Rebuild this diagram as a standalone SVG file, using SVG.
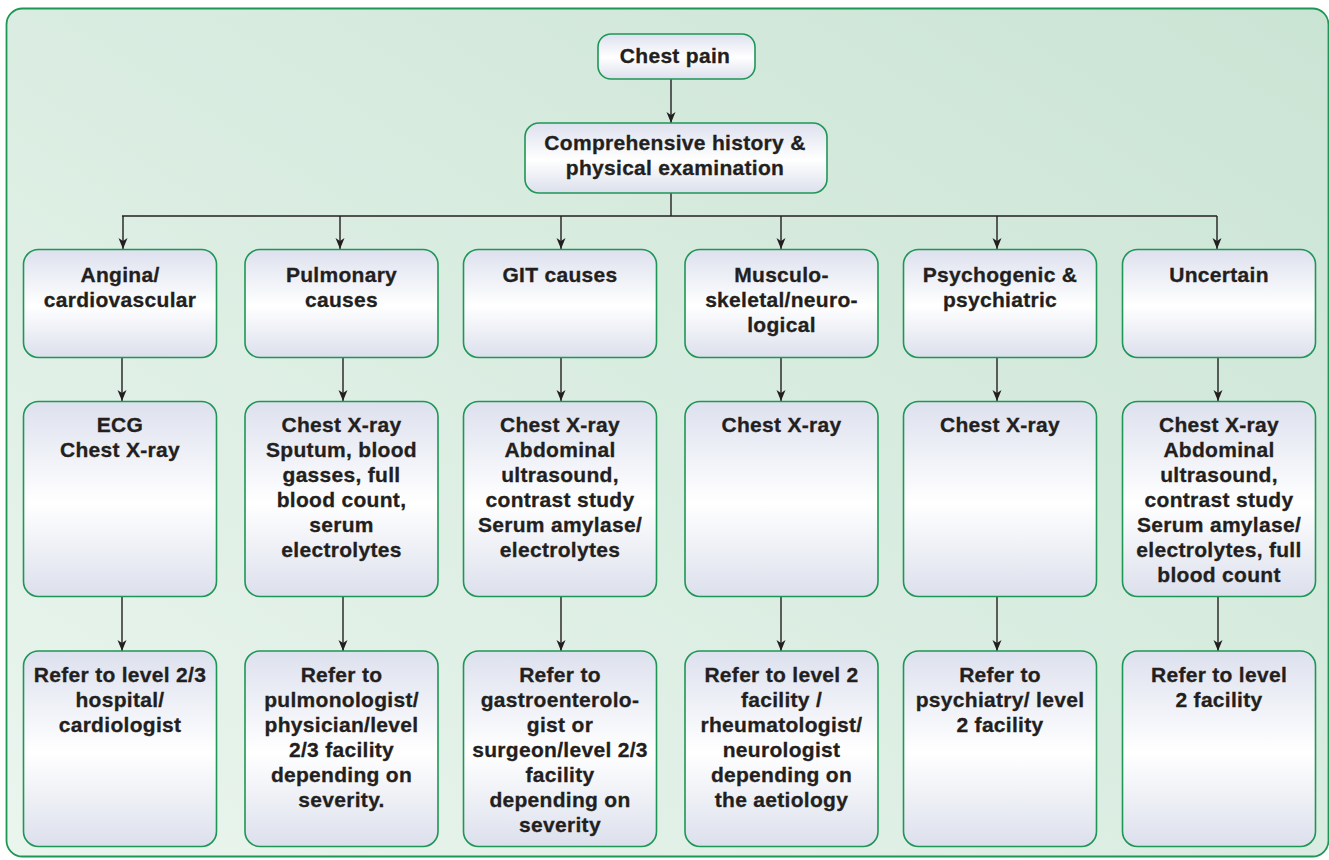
<svg xmlns="http://www.w3.org/2000/svg" width="1329" height="860" viewBox="0 0 1329 860">
<defs>
<linearGradient id="bg" x1="0" y1="1" x2="1" y2="0">
<stop offset="0" stop-color="#eaf5ee"/>
<stop offset="1" stop-color="#cae4d4"/>
</linearGradient>
<linearGradient id="box" x1="0" y1="0" x2="0" y2="1">
<stop offset="0" stop-color="#dde1ee"/>
<stop offset="0.52" stop-color="#ffffff"/>
<stop offset="1" stop-color="#dce0ec"/>
</linearGradient>
<marker id="arr" markerUnits="userSpaceOnUse" markerWidth="12" markerHeight="12" viewBox="0 0 12 12" refX="11" refY="6" orient="auto">
<path d="M0,1.5 L11,6 L0,10.5 L3,6 z" fill="#231f20"/>
</marker>
<style>
.n{fill:url(#box);stroke:#1e9656;stroke-width:1.6}
.t{font-family:"Liberation Sans",Arial,sans-serif;font-weight:bold;font-size:21px;letter-spacing:0.3px;fill:#231f20;stroke:#231f20;stroke-width:0.3px;text-anchor:middle}
.c{fill:none;stroke:#231f20;stroke-width:1.4}
.a{marker-end:url(#arr)}
</style>
</defs>
<rect x="0" y="0" width="1329" height="860" fill="#ffffff"/>
<rect x="6.5" y="8.5" width="1322" height="848" rx="16" fill="url(#bg)" stroke="#1e9656" stroke-width="1.8"/>

<g id="connectors">
<line class="c a" x1="671" y1="79" x2="671" y2="123"/>
<line class="c" x1="671" y1="193" x2="671" y2="216"/>
<line class="c" x1="122" y1="216" x2="1217" y2="216"/>
<line class="c a" x1="123" y1="216" x2="123" y2="249"/>
<line class="c a" x1="340" y1="216" x2="340" y2="249"/>
<line class="c a" x1="561" y1="216" x2="561" y2="249"/>
<line class="c a" x1="781" y1="216" x2="781" y2="249"/>
<line class="c a" x1="997" y1="216" x2="997" y2="249"/>
<line class="c a" x1="1217" y1="216" x2="1217" y2="249"/>
<line class="c a" x1="122" y1="357" x2="122" y2="401"/>
<line class="c a" x1="343" y1="357" x2="343" y2="401"/>
<line class="c a" x1="561" y1="357" x2="561" y2="401"/>
<line class="c a" x1="781" y1="357" x2="781" y2="401"/>
<line class="c a" x1="997" y1="357" x2="997" y2="401"/>
<line class="c a" x1="1218" y1="357" x2="1218" y2="401"/>
<line class="c a" x1="122" y1="597" x2="122" y2="651"/>
<line class="c a" x1="343" y1="597" x2="343" y2="651"/>
<line class="c a" x1="561" y1="597" x2="561" y2="651"/>
<line class="c a" x1="781" y1="597" x2="781" y2="651"/>
<line class="c a" x1="997" y1="597" x2="997" y2="651"/>
<line class="c a" x1="1218" y1="597" x2="1218" y2="651"/>
</g>

<g id="chest-pain">
<rect class="n" x="598" y="34" width="157" height="45" rx="13"/>
<text class="t" x="675" y="63">Chest pain</text>
</g>
<g id="history">
<rect class="n" x="525" y="123" width="302" height="70" rx="14"/>
<text class="t" x="675" y="150">Comprehensive history &amp;<tspan x="675" dy="25">physical examination</tspan></text>
</g>

<g id="angina">
<rect class="n" x="23.5" y="249.5" width="193" height="108" rx="15"/>
<text class="t" x="120" y="282">Angina/<tspan x="120" dy="25">cardiovascular</tspan></text>
</g>
<g id="pulmonary">
<rect class="n" x="245" y="249.5" width="193" height="108" rx="15"/>
<text class="t" x="341.5" y="282">Pulmonary<tspan x="341.5" dy="25">causes</tspan></text>
</g>
<g id="git">
<rect class="n" x="463.5" y="249.5" width="193" height="108" rx="15"/>
<text class="t" x="560" y="282">GIT causes</text>
</g>
<g id="musculo">
<rect class="n" x="685" y="249.5" width="193" height="108" rx="15"/>
<text class="t" x="781.5" y="282">Musculo-<tspan x="781.5" dy="25">skeletal/neuro-</tspan><tspan x="781.5" dy="25">logical</tspan></text>
</g>
<g id="psychogenic">
<rect class="n" x="903.5" y="249.5" width="193" height="108" rx="15"/>
<text class="t" x="1000" y="282">Psychogenic &amp;<tspan x="1000" dy="25">psychiatric</tspan></text>
</g>
<g id="uncertain">
<rect class="n" x="1122.5" y="249.5" width="193" height="108" rx="15"/>
<text class="t" x="1219" y="282">Uncertain</text>
</g>

<g id="inv-angina">
<rect class="n" x="23.5" y="401.5" width="193" height="195" rx="15"/>
<text class="t" x="120" y="432">ECG<tspan x="120" dy="25">Chest X-ray</tspan></text>
</g>
<g id="inv-pulmonary">
<rect class="n" x="245" y="401.5" width="193" height="195" rx="15"/>
<text class="t" x="341.5" y="432">Chest X-ray<tspan x="341.5" dy="25">Sputum, blood</tspan><tspan x="341.5" dy="25">gasses, full</tspan><tspan x="341.5" dy="25">blood count,</tspan><tspan x="341.5" dy="25">serum</tspan><tspan x="341.5" dy="25">electrolytes</tspan></text>
</g>
<g id="inv-git">
<rect class="n" x="463.5" y="401.5" width="193" height="195" rx="15"/>
<text class="t" x="560" y="432">Chest X-ray<tspan x="560" dy="25">Abdominal</tspan><tspan x="560" dy="25">ultrasound,</tspan><tspan x="560" dy="25">contrast study</tspan><tspan x="560" dy="25">Serum amylase/</tspan><tspan x="560" dy="25">electrolytes</tspan></text>
</g>
<g id="inv-musculo">
<rect class="n" x="685" y="401.5" width="193" height="195" rx="15"/>
<text class="t" x="781.5" y="432">Chest X-ray</text>
</g>
<g id="inv-psychogenic">
<rect class="n" x="903.5" y="401.5" width="193" height="195" rx="15"/>
<text class="t" x="1000" y="432">Chest X-ray</text>
</g>
<g id="inv-uncertain">
<rect class="n" x="1122.5" y="401.5" width="193" height="195" rx="15"/>
<text class="t" x="1219" y="432">Chest X-ray<tspan x="1219" dy="25">Abdominal</tspan><tspan x="1219" dy="25">ultrasound,</tspan><tspan x="1219" dy="25">contrast study</tspan><tspan x="1219" dy="25">Serum amylase/</tspan><tspan x="1219" dy="25">electrolytes, full</tspan><tspan x="1219" dy="25">blood count</tspan></text>
</g>

<g id="ref-angina">
<rect class="n" x="23.5" y="651" width="193" height="195.5" rx="15"/>
<text class="t" x="120" y="682">Refer to level 2/3<tspan x="120" dy="25">hospital/</tspan><tspan x="120" dy="25">cardiologist</tspan></text>
</g>
<g id="ref-pulmonary">
<rect class="n" x="245" y="651" width="193" height="195.5" rx="15"/>
<text class="t" x="341.5" y="682">Refer to<tspan x="341.5" dy="25">pulmonologist/</tspan><tspan x="341.5" dy="25">physician/level</tspan><tspan x="341.5" dy="25">2/3 facility</tspan><tspan x="341.5" dy="25">depending on</tspan><tspan x="341.5" dy="25">severity.</tspan></text>
</g>
<g id="ref-git">
<rect class="n" x="463.5" y="651" width="193" height="195.5" rx="15"/>
<text class="t" x="560" y="682">Refer to<tspan x="560" dy="25">gastroenterolo-</tspan><tspan x="560" dy="25">gist or</tspan><tspan x="560" dy="25">surgeon/level 2/3</tspan><tspan x="560" dy="25">facility</tspan><tspan x="560" dy="25">depending on</tspan><tspan x="560" dy="25">severity</tspan></text>
</g>
<g id="ref-musculo">
<rect class="n" x="685" y="651" width="193" height="195.5" rx="15"/>
<text class="t" x="781.5" y="682">Refer to level 2<tspan x="781.5" dy="25">facility /</tspan><tspan x="781.5" dy="25">rheumatologist/</tspan><tspan x="781.5" dy="25">neurologist</tspan><tspan x="781.5" dy="25">depending on</tspan><tspan x="781.5" dy="25">the aetiology</tspan></text>
</g>
<g id="ref-psychogenic">
<rect class="n" x="903.5" y="651" width="193" height="195.5" rx="15"/>
<text class="t" x="1000" y="682">Refer to<tspan x="1000" dy="25">psychiatry/ level</tspan><tspan x="1000" dy="25">2 facility</tspan></text>
</g>
<g id="ref-uncertain">
<rect class="n" x="1122.5" y="651" width="193" height="195.5" rx="15"/>
<text class="t" x="1219" y="682">Refer to level<tspan x="1219" dy="25">2 facility</tspan></text>
</g>
</svg>
